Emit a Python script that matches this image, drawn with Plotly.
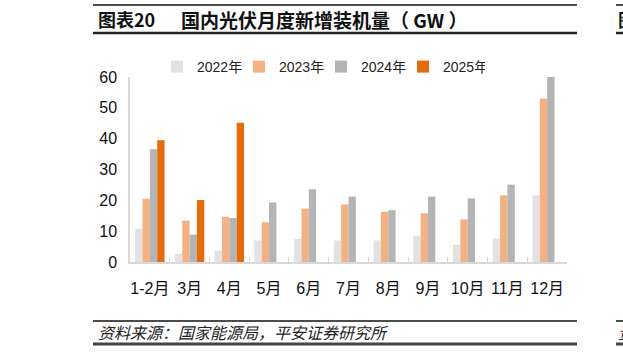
import plotly.graph_objects as go

categories = ["1-2月", "3月", "4月", "5月", "6月", "7月", "8月", "9月", "10月", "11月", "12月"]
series_names = ["2022年", "2023年", "2024年", "2025年"]
v2022 = [10.8, 2.6, 3.7, 7.0, 7.5, 7.0, 7.0, 8.5, 5.6, 7.6, 21.6]
v2023 = [20.5, 13.4, 14.7, 12.9, 17.3, 18.7, 16.3, 15.8, 13.8, 21.6, 53.0]
v2024 = [36.6, 8.9, 14.3, 19.3, 23.6, 21.2, 16.8, 21.2, 20.6, 25.1, 60.5]
v2025 = [39.5, 20.1, 45.2, None, None, None, None, None, None, None, None]
colors = ["#e2e2e2", "#f4b183", "#b4b4b4", "#e46c0a"]
y_ticks = [0, 10, 20, 30, 40, 50, 60]

title_no = "图表20"
title_text = "国内光伏月度新增装机量（ GW ）"
source_text = "资料来源：国家能源局，平安证券研究所"

W, H = 623, 352
L, R, T, B = 130, 567, 77, 262

def px(x):
    return (x - L) / (R - L)

def py(y):
    return (B - y) / (B - T)

fig = go.Figure()
for name, vals, c in zip(series_names, [v2022, v2023, v2024, v2025], colors):
    fig.add_trace(go.Bar(x=categories, y=vals, name=name, marker_color=c,
                         marker_line_width=0))

cjk = "Noto Sans CJK SC"
fig.update_layout(
    width=W, height=H,
    margin=dict(l=L, r=W - R, t=T, b=H - B, pad=0),
    paper_bgcolor="white", plot_bgcolor="white",
    barmode="group", bargap=0.26, bargroupgap=0,
    font=dict(family="Liberation Sans, " + cjk, size=14, color="#222"),
    showlegend=True,
    legend=dict(orientation="h", x=px(157), y=py(67), xanchor="left", yanchor="middle",
                font=dict(size=14, family="Liberation Sans, " + cjk, color="#222"),
                entrywidth=37, entrywidthmode="pixels", itemwidth=30,
                bgcolor="rgba(0,0,0,0)"),
    xaxis=dict(showline=True, linecolor="#d9d9d9", linewidth=1.5,
               ticks="inside", tickson="boundaries", ticklen=5, tickcolor="#d9d9d9",
               tickangle=0,
               tickfont=dict(size=16, family="Liberation Sans, " + cjk, color="#111"),
               ticklabelstandoff=11, showgrid=False, fixedrange=True),
    yaxis=dict(range=[0, 60], tickvals=y_ticks, showline=True, linecolor="#d9d9d9",
               linewidth=1.5, ticks="", showgrid=False, zeroline=False,
               tickfont=dict(size=16, family="Liberation Sans", color="#111"),
               ticklabelstandoff=8),
)

shapes = []
def hline(x0, x1, y, w, color):
    shapes.append(dict(type="line", xref="paper", yref="paper", x0=px(x0), x1=px(x1),
                       y0=py(y), y1=py(y), line=dict(color=color, width=w)))

hline(93, 577, 5, 1.5, "#111")
hline(93, 577, 33, 2.5, "#222")
hline(93, 577, 321, 1.5, "#111")
hline(93, 577, 344, 3, "#444")
hline(616, 623, 5, 1.5, "#111")
hline(616, 623, 33, 2.5, "#222")
hline(616, 623, 321, 1.5, "#111")
hline(616, 623, 344, 3, "#444")
fig.update_layout(shapes=shapes)

ann = []
ann.append(dict(text="<b>" + title_no + "</b>", x=px(96), y=py(19), xref="paper", yref="paper",
                xanchor="left", yanchor="middle", showarrow=False,
                font=dict(size=18, family=cjk, color="#111")))
ann.append(dict(text="<b>" + title_text + "</b>", x=px(179), y=py(19), xref="paper", yref="paper",
                xanchor="left", yanchor="middle", showarrow=False,
                font=dict(size=19, family=cjk, color="#111")))
ann.append(dict(text="<b>图</b>", x=px(616), y=py(19), xref="paper", yref="paper",
                xanchor="left", yanchor="middle", showarrow=False,
                font=dict(size=18, family=cjk, color="#111")))
ann.append(dict(text="<i>" + source_text + "</i>", x=px(96), y=py(332), xref="paper", yref="paper",
                xanchor="left", yanchor="middle", showarrow=False,
                font=dict(size=16, family=cjk, color="#222")))
ann.append(dict(text="<i>资</i>", x=px(616), y=py(332), xref="paper", yref="paper",
                xanchor="left", yanchor="middle", showarrow=False,
                font=dict(size=16, family=cjk, color="#222")))
fig.update_layout(annotations=ann)

fig.write_html("out.html")
